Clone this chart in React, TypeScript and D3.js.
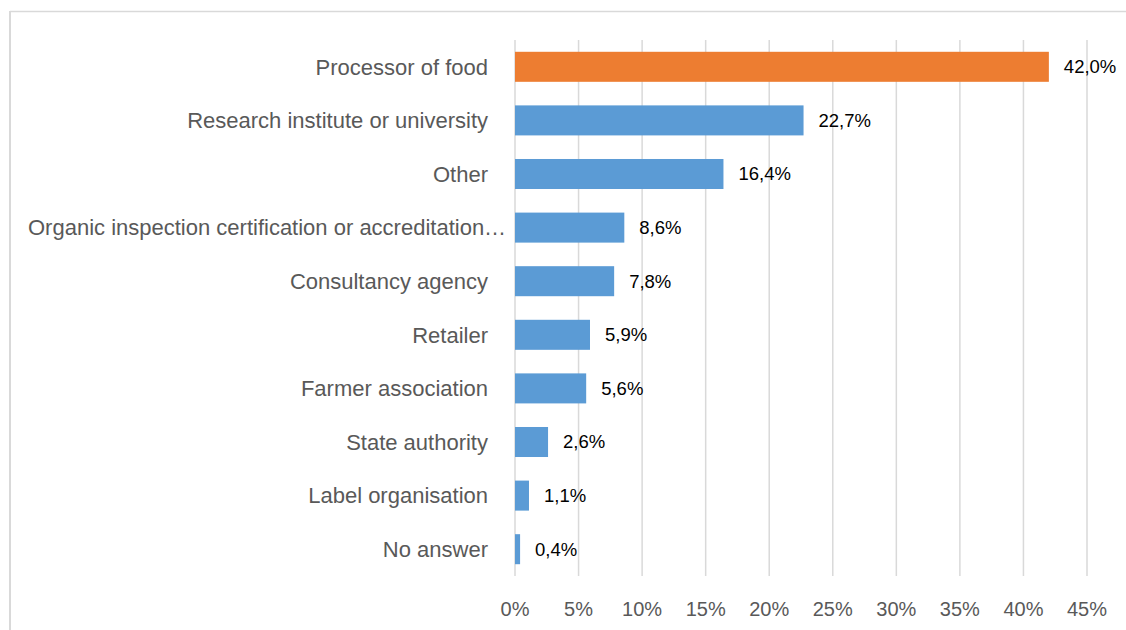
import React from "react";
import * as d3 from "d3";

const categories = [
  "Processor of food",
  "Research institute or university",
  "Other",
  "Organic inspection certification or accreditation…",
  "Consultancy agency",
  "Retailer",
  "Farmer association",
  "State authority",
  "Label organisation",
  "No answer",
];
const values = [42.0, 22.7, 16.4, 8.6, 7.8, 5.9, 5.6, 2.6, 1.1, 0.4];
const highlight = ["Processor of food"];
const ticks = [0, 5, 10, 15, 20, 25, 30, 35, 40, 45];

const W = 1126;
const H = 630;
const FONT = "'Liberation Sans', Arial, sans-serif";

export default function App() {
  const x = d3.scaleLinear().domain([0, 45]).range([515, 1087]);
  const y = d3.scaleBand().domain(categories).range([40, 576]).paddingInner(0.44).paddingOuter(0.22);
  const fmt = (v: number) => v.toFixed(1).replace(".", ",") + "%";
  return (
    <svg width={W} height={H} style={{ position: "absolute", left: 0, top: 0, background: "#fff" }} fontFamily={FONT}>
      <rect x={0} y={0} width={W} height={H} fill="#fff" />
      <line x1={10} x2={W} y1={11.5} y2={11.5} stroke="#d9d9d9" strokeWidth={1.5} />
      <line x1={10} x2={10} y1={11} y2={H} stroke="#d9d9d9" strokeWidth={2} />
      {ticks.map((t) => (
        <g key={t}>
          <line x1={x(t)} x2={x(t)} y1={40} y2={576} stroke="#d9d9d9" strokeWidth={1.5} />
          <text x={x(t)} y={616} textAnchor="middle" fontSize={20} fill="#595959">
            {t}%
          </text>
        </g>
      ))}
      {categories.map((c, i) => {
        const yy = y(c)!;
        const bw = y.bandwidth();
        const truncated = c.endsWith("…");
        return (
          <g key={c}>
            <rect
              x={x(0)}
              y={yy}
              width={x(values[i]) - x(0)}
              height={bw}
              fill={highlight.includes(c) ? "#ed7d31" : "#5b9bd5"}
            />
            <text
              x={truncated ? 28 : 488}
              y={yy + bw / 2}
              dy="0.35em"
              textAnchor={truncated ? "start" : "end"}
              fontSize={22}
              fill="#595959"
            >
              {c}
            </text>
            <text x={x(values[i]) + 15} y={yy + bw / 2} dy="0.35em" fontSize={18.5} fill="#000">
              {fmt(values[i])}
            </text>
          </g>
        );
      })}
    </svg>
  );
}
